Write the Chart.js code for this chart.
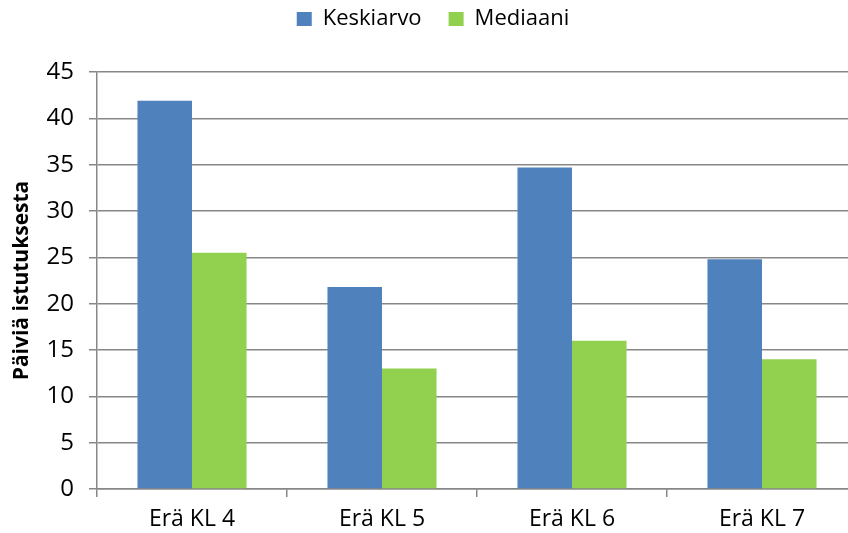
<!DOCTYPE html>
<html><head><meta charset="utf-8">
<script src="https://cdn.jsdelivr.net/npm/chart.js@4/dist/chart.umd.min.js"></script>
<style>html,body{margin:0;padding:0;overflow:hidden;background:#fff}#wrap{width:866px;height:533px;position:relative}</style>
</head><body><div id="wrap"><canvas id="c" width="866" height="533"></canvas></div>
<script>
const categories = ['Erä KL 4', 'Erä KL 5', 'Erä KL 6', 'Erä KL 7'];
const keskiarvo = [41.9, 21.8, 34.7, 24.8];
const mediaani = [25.5, 13, 16, 14];
const seriesNames = ['Keskiarvo', 'Mediaani'];
const yTitle = 'Päiviä istutuksesta';

const FONT = "'Open Sans', 'Liberation Sans', sans-serif";
const GRID = '#878787';
const legendSpace = {
  id: 'legendSpace',
  beforeLayout(chart) {
    const lg = chart.legend;
    if (lg && !lg._patched) {
      const f = lg.fit;
      lg.fit = function () { f.call(this); this.height = 72; };
      const d = lg.draw;
      lg.draw = function () {
        const ctx = this.ctx;
        ctx.save(); ctx.translate(0, -19); d.call(this); ctx.restore();
      };
      lg._patched = true;
    }
  }
};
new Chart(document.getElementById('c'), {
  type: 'bar',
  data: {
    labels: categories,
    datasets: [
      { label: seriesNames[0], data: keskiarvo, backgroundColor: '#4f81bd', borderWidth: 0 },
      { label: seriesNames[1], data: mediaani, backgroundColor: '#92d050', borderWidth: 0 }
    ]
  },
  plugins: [legendSpace],
  options: {
    responsive: false,
    animation: false,
    layout: { padding: { top: 0, right: 9, left: 9, bottom: 0 } },
    datasets: { bar: { categoryPercentage: 0.574, barPercentage: 1.0 } },
    plugins: {
      tooltip: { enabled: false },
      legend: {
        position: 'top',
        labels: { font: { family: FONT, size: 22 }, color: '#000', boxWidth: 15, boxHeight: 14, padding: 27 }
      }
    },
    scales: {
      x: {
        grid: { offset: true, drawOnChartArea: false, color: GRID, lineWidth: 1.5, tickLength: 8 },
        border: { color: GRID, width: 1.5 },
        ticks: { font: { family: FONT, size: 23 }, color: '#000', padding: 9 },
        afterFit: s => { s.height = 44; }
      },
      y: {
        min: 0, max: 45,
        ticks: { stepSize: 5, font: { family: FONT, size: 24 }, color: '#000', padding: 15 },
        grid: { color: GRID, lineWidth: 1.5, tickLength: 8 },
        border: { color: GRID, width: 1.5 },
        title: { display: true, text: yTitle, font: { family: FONT, size: 21, weight: 'bold' }, color: '#000', padding: 0 },
        afterFit: s => { s.width = 88; }
      }
    }
  }
});
</script></body></html>
